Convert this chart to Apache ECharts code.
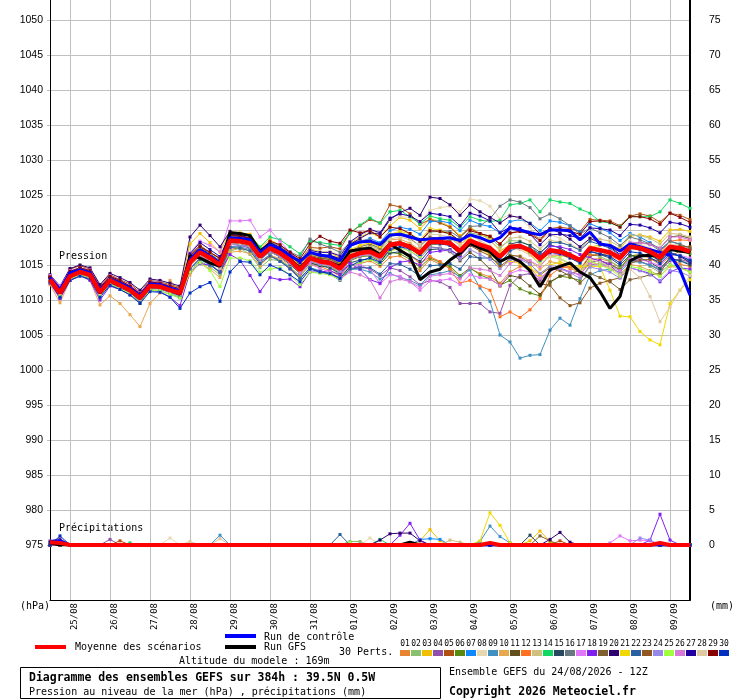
<!DOCTYPE html>
<html>
<head>
<meta charset="utf-8">
<script src="https://cdn.jsdelivr.net/npm/echarts@6.0.0/dist/echarts.min.js"></script>
<style>
  * { margin: 0; padding: 0; }
  html, body { width: 740px; height: 700px; background: #fff; }
</style>
</head>
<body>
<div id="container" style="width:740px;height:700px"></div>
<script>
// axe des temps : pas de 6h depuis le 24/08 12Z (65 échéances)
var jours = ['25/08','26/08','27/08','28/08','29/08','30/08','31/08','01/09','02/09','03/09','04/09','05/09','06/09','07/09','08/09','09/09'];
var graduationsHpa = [975, 1050];
var graduationsMm = [0, 75];

// pression (hPa)
var moyenne = [1012.9,1011.0,1013.4,1014.0,1013.6,1011.1,1012.8,1012.1,1011.4,1010.3,1012.0,1011.9,1011.4,
  1011.0,1015.4,1016.8,1016.0,1015.0,1018.5,1018.4,1018.1,1016.2,1017.4,1016.7,1015.7,1014.3,
  1016.0,1015.5,1015.3,1014.5,1016.2,1016.7,1016.9,1016.2,1017.9,1018.1,1017.6,1016.7,1018.3,
  1018.3,1018.1,1017.0,1018.5,1017.9,1017.4,1016.2,1017.6,1017.7,1017.1,1015.9,1017.1,1016.9,
  1016.4,1015.7,1017.4,1017.1,1016.8,1016.0,1017.6,1017.4,1016.9,1016.1,1017.6,1017.4,1016.9];
var controle = [1013.2,1011.5,1013.9,1014.3,1013.9,1011.5,1012.9,1012.4,1011.7,1010.6,1012.3,1012.2,1011.7,
  1011.3,1015.8,1017.2,1016.3,1015.3,1018.9,1018.8,1018.6,1016.8,1017.9,1017.3,1016.3,1015.5,
  1016.8,1016.4,1016.2,1015.6,1017.8,1018.3,1018.4,1017.9,1019.3,1019.4,1019.0,1018.6,1018.7,
  1018.8,1018.9,1018.5,1019.3,1018.9,1018.3,1018.9,1020.3,1020.0,1019.6,1019.3,1020.0,1020.0,
  1019.9,1018.6,1019.7,1018.0,1017.8,1017.0,1018.0,1017.6,1017.2,1016.8,1016.4,1014.3,1010.7];
var gfs = [1013.0,1011.0,1013.8,1014.2,1013.5,1011.0,1012.8,1012.3,1011.5,1010.2,1012.2,1012.0,1011.5,
  1010.8,1016.3,1016.0,1015.3,1014.8,1019.6,1019.5,1019.2,1017.0,1018.0,1016.8,1015.8,1014.6,
  1016.0,1015.6,1015.4,1014.8,1017.0,1017.2,1017.4,1016.5,1018.0,1017.1,1016.2,1012.9,1014.0,
  1014.4,1015.7,1016.7,1018.1,1017.4,1016.9,1015.5,1016.2,1015.5,1014.2,1011.9,1014.3,1014.8,
  1015.3,1014.0,1013.2,1011.2,1008.8,1010.5,1015.6,1016.3,1016.4,1016.3,1017.2,1017.0,1016.8];

var p01 = [1013.2,1011.4,1013.6,1014.3,1013.9,1011.5,1013.0,1012.5,1011.6,1010.8,1012.3,1012.1,1011.7,
  1011.2,1014.5,1015.9,1015.2,1013.8,1017.2,1017.5,1017.0,1015.1,1016.2,1015.8,1014.6,1013.5,
  1015.0,1014.8,1014.2,1013.4,1015.0,1015.2,1015.6,1014.8,1016.1,1016.3,1015.4,1014.2,1015.8,
  1015.1,1014.6,1013.2,1014.5,1013.8,1013.3,1012.4,1014.0,1014.8,1014.6,1013.0,1014.4,1014.9,
  1014.5,1014.0,1015.8,1015.9,1015.5,1014.6,1016.3,1016.4,1016.0,1015.0,1016.2,1015.1,1014.8];
var p02 = [1012.6,1010.5,1013.1,1013.8,1013.2,1010.6,1012.5,1011.7,1011.0,1009.8,1011.5,1011.6,1011.0,
  1010.4,1014.0,1015.6,1014.7,1013.6,1017.0,1017.4,1016.5,1014.6,1015.8,1015.6,1014.8,1013.3,
  1015.1,1015.0,1014.6,1013.6,1016.6,1017.3,1017.8,1017.2,1019.0,1019.6,1019.2,1018.4,1019.7,
  1019.8,1019.4,1018.5,1019.6,1019.3,1018.9,1017.6,1018.5,1018.4,1017.8,1016.4,1017.2,1016.8,
  1016.1,1015.2,1016.6,1016.2,1015.6,1014.7,1016.0,1015.6,1014.8,1013.9,1015.1,1014.7,1014.0];
var p03 = [1013.0,1011.3,1013.8,1014.4,1013.8,1011.4,1013.2,1012.6,1011.9,1010.6,1012.6,1012.4,1012.0,
  1011.6,1018.0,1019.5,1018.2,1016.8,1019.8,1019.6,1019.4,1017.5,1018.6,1017.8,1016.4,1015.2,
  1017.3,1016.9,1016.8,1016.0,1018.1,1019.0,1019.6,1019.0,1020.6,1021.8,1021.4,1020.2,1021.6,
  1021.2,1020.5,1019.2,1020.4,1019.5,1018.6,1017.0,1017.9,1017.5,1016.6,1015.0,1016.2,1016.4,
  1016.0,1015.5,1017.6,1017.8,1017.9,1017.3,1019.1,1019.3,1019.0,1018.4,1020.0,1020.1,1019.8];
var p04 = [1012.7,1010.8,1013.2,1013.9,1013.3,1010.8,1012.4,1011.8,1011.2,1010.0,1011.8,1011.6,1011.2,
  1010.7,1015.0,1016.3,1015.4,1014.6,1017.6,1017.8,1017.4,1015.5,1016.4,1015.6,1014.4,1013.0,
  1014.6,1014.1,1013.8,1013.0,1014.5,1014.8,1014.4,1013.5,1014.6,1014.2,1013.3,1012.2,1012.8,
  1012.6,1011.8,1009.5,1009.5,1009.5,1008.3,1008.1,1012.1,1013.5,1013.8,1012.8,1014.2,1014.6,
  1014.0,1013.6,1015.4,1015.6,1015.2,1014.3,1015.8,1015.5,1015.0,1014.2,1015.6,1015.8,1015.4];
var p05 = [1013.4,1011.8,1014.4,1014.9,1014.4,1012.0,1013.6,1012.9,1012.3,1011.1,1012.8,1012.6,1012.2,
  1011.8,1016.5,1017.8,1016.8,1016.0,1019.2,1019.0,1018.8,1017.0,1018.3,1017.5,1016.8,1015.6,
  1017.5,1017.4,1017.6,1017.3,1019.6,1020.6,1021.5,1021.0,1023.6,1023.3,1022.3,1020.8,1021.5,
  1021.0,1020.4,1019.0,1020.2,1019.5,1019.1,1018.0,1019.5,1019.8,1019.6,1018.7,1020.2,1020.4,
  1020.2,1019.8,1021.5,1021.4,1021.3,1020.6,1022.0,1022.3,1022.0,1021.1,1022.4,1022.1,1021.5];
var p06 = [1012.8,1010.9,1013.3,1013.8,1013.5,1011.0,1012.6,1012.0,1011.1,1010.1,1011.9,1011.7,1011.3,
  1010.9,1015.2,1016.6,1015.8,1014.9,1018.4,1018.2,1017.8,1016.0,1017.0,1016.2,1015.2,1013.8,
  1015.4,1014.9,1014.8,1014.0,1015.6,1016.2,1016.3,1015.5,1016.8,1016.6,1015.8,1014.7,1016.0,
  1015.4,1014.8,1013.5,1014.6,1013.6,1013.0,1012.1,1012.8,1011.6,1011.0,1010.6,1012.5,1013.4,
  1013.2,1012.8,1015.0,1015.2,1015.0,1014.4,1016.3,1016.5,1016.3,1015.7,1017.2,1017.0,1016.6];
var p07 = [1013.1,1011.2,1013.7,1014.2,1013.8,1011.3,1013.0,1012.3,1011.6,1010.5,1012.2,1012.0,1011.6,
  1011.1,1015.9,1017.3,1016.4,1015.4,1018.9,1018.8,1018.5,1016.7,1017.9,1017.2,1016.4,1015.0,
  1016.8,1016.5,1016.4,1015.8,1017.6,1018.3,1018.8,1018.2,1019.9,1020.4,1020.1,1019.4,1021.2,
  1021.3,1021.0,1019.9,1021.4,1020.8,1020.5,1019.6,1021.2,1021.5,1021.0,1019.9,1021.3,1021.1,
  1020.6,1019.7,1020.9,1020.3,1019.6,1018.5,1019.5,1019.0,1018.2,1017.2,1018.4,1017.9,1017.2];
var p08 = [1013.0,1011.3,1013.5,1014.1,1013.6,1011.2,1012.9,1012.2,1011.5,1010.4,1012.1,1012.0,1011.5,
  1011.2,1015.6,1017.0,1016.2,1015.2,1018.6,1018.6,1018.4,1016.6,1017.8,1017.2,1016.3,1015.1,
  1017.1,1016.9,1017.0,1016.4,1018.3,1019.2,1019.9,1019.5,1021.4,1021.9,1021.8,1021.2,1022.8,
  1023.2,1023.4,1022.6,1024.4,1024.2,1023.4,1021.6,1022.2,1021.6,1020.4,1018.6,1019.4,1018.8,
  1018.0,1017.2,1018.6,1018.2,1017.8,1017.0,1018.4,1018.0,1017.4,1016.6,1018.0,1017.8,1017.2];
var p09 = [1012.5,1010.4,1012.9,1013.6,1013.0,1010.5,1012.3,1011.6,1010.8,1009.6,1011.4,1011.3,1010.8,
  1010.3,1014.6,1016.0,1015.2,1014.0,1017.6,1017.6,1017.2,1015.4,1016.5,1015.6,1014.6,1013.1,
  1014.6,1014.2,1013.8,1013.2,1014.4,1014.4,1014.0,1013.0,1013.8,1013.2,1012.8,1012.1,1013.6,
  1013.8,1014.2,1013.3,1014.3,1011.7,1009.8,1005.0,1004.0,1001.7,1002.1,1002.2,1005.7,1007.4,
  1006.4,1010.2,1013.6,1014.2,1014.4,1014.0,1015.5,1015.4,1015.0,1014.4,1015.8,1015.6,1015.2];
var p10 = [1012.2,1009.6,1012.8,1013.5,1012.8,1009.3,1010.6,1009.5,1007.9,1006.2,1009.5,1011.0,1012.8,
  1011.3,1013.6,1015.4,1014.4,1013.2,1016.8,1017.0,1016.6,1014.9,1016.4,1015.9,1015.0,1013.9,
  1015.6,1015.4,1015.4,1014.8,1016.5,1017.2,1017.6,1017.0,1018.6,1018.7,1018.1,1017.2,1018.6,
  1018.4,1018.0,1016.8,1018.0,1017.2,1016.6,1015.2,1016.4,1016.3,1015.6,1014.4,1015.5,1015.2,
  1014.7,1013.9,1015.5,1015.0,1014.6,1013.7,1015.1,1014.8,1014.2,1013.4,1014.8,1014.6,1014.0];
var p11 = [1013.3,1011.6,1014.0,1014.6,1014.1,1011.6,1013.2,1012.6,1011.8,1010.8,1012.4,1012.3,1011.8,
  1011.4,1016.2,1017.6,1016.6,1015.6,1019.0,1018.8,1018.6,1016.8,1018.0,1017.3,1016.3,1015.0,
  1016.6,1016.2,1016.0,1015.3,1016.9,1017.4,1017.5,1016.8,1018.2,1018.2,1017.4,1016.3,1017.6,
  1017.4,1016.9,1015.6,1016.8,1015.8,1014.4,1012.0,1013.5,1013.2,1012.0,1010.8,1012.6,1013.4,
  1013.8,1014.2,1016.3,1016.5,1016.6,1016.2,1018.0,1018.2,1018.0,1017.4,1019.0,1019.2,1018.8];
var p12 = [1012.6,1010.7,1013.2,1013.9,1013.4,1010.9,1012.6,1011.9,1011.2,1010.1,1011.8,1011.7,1011.2,
  1010.8,1014.9,1016.3,1015.5,1014.5,1018.0,1018.0,1017.7,1015.8,1017.0,1016.3,1015.3,1013.9,
  1015.6,1015.1,1014.9,1014.1,1015.8,1016.3,1016.5,1015.7,1017.2,1017.2,1016.4,1015.2,1016.2,
  1015.5,1014.4,1012.4,1012.8,1012.0,1011.4,1007.6,1008.3,1007.5,1008.6,1010.2,1013.5,1014.6,
  1014.8,1014.4,1016.4,1016.5,1016.3,1015.7,1017.4,1017.5,1017.2,1016.7,1018.4,1018.6,1018.5];
var p13 = [1013.0,1011.1,1013.5,1014.0,1013.7,1011.2,1012.9,1012.2,1011.5,1010.4,1012.1,1012.0,1011.5,
  1011.1,1015.0,1016.4,1015.6,1014.5,1018.0,1018.0,1017.6,1015.7,1016.9,1016.1,1015.2,1013.8,
  1015.4,1015.0,1014.8,1014.1,1015.9,1016.5,1016.8,1016.2,1018.0,1018.3,1017.9,1017.1,1018.8,
  1018.9,1018.8,1017.8,1019.4,1018.9,1018.4,1017.3,1018.8,1019.0,1018.4,1017.3,1018.5,1018.3,
  1017.8,1017.2,1018.9,1018.7,1018.4,1017.6,1019.3,1019.2,1018.8,1018.0,1019.5,1019.4,1019.0];
var p14 = [1012.9,1011.0,1013.5,1014.1,1013.6,1011.1,1012.8,1012.1,1011.4,1010.3,1012.0,1012.0,1011.4,
  1011.0,1015.6,1017.1,1016.3,1015.4,1019.1,1019.3,1019.2,1017.6,1019.0,1018.6,1017.6,1016.6,
  1018.4,1018.2,1018.0,1017.8,1019.6,1020.7,1021.7,1021.0,1022.6,1022.8,1021.9,1020.9,1022.0,
  1021.6,1021.4,1020.4,1021.9,1021.4,1021.2,1021.4,1023.6,1023.8,1024.3,1022.6,1024.3,1024.0,
  1023.8,1023.0,1022.4,1021.2,1021.0,1020.5,1021.9,1021.9,1021.9,1022.6,1024.3,1023.8,1023.1];
var p15 = [1012.8,1010.8,1013.3,1013.9,1013.4,1010.9,1012.6,1012.0,1011.3,1010.2,1011.9,1011.8,1011.3,
  1010.9,1015.3,1016.6,1015.8,1014.8,1018.2,1018.0,1017.6,1015.8,1016.9,1016.2,1015.1,1013.8,
  1015.3,1014.9,1014.6,1013.8,1015.3,1015.7,1015.9,1015.1,1016.7,1016.9,1016.4,1015.5,1017.2,
  1017.3,1017.2,1016.3,1017.9,1017.6,1017.3,1016.4,1018.0,1018.3,1017.8,1016.8,1017.9,1017.4,
  1016.6,1015.6,1017.0,1016.5,1016.0,1015.0,1016.4,1016.0,1015.4,1014.5,1016.0,1015.6,1015.0];
var p16 = [1013.1,1011.4,1013.8,1014.4,1014.0,1011.5,1013.2,1012.5,1011.8,1010.7,1012.4,1012.2,1011.8,
  1011.4,1016.0,1017.4,1016.5,1015.6,1019.0,1018.9,1018.6,1016.9,1018.2,1017.8,1016.9,1016.2,
  1018.7,1018.0,1017.5,1016.8,1018.2,1018.5,1018.6,1017.8,1019.2,1019.4,1019.0,1018.3,1019.8,
  1019.9,1019.8,1018.9,1020.5,1020.6,1021.6,1023.4,1024.3,1024.0,1023.2,1021.6,1022.3,1021.6,
  1020.6,1019.4,1020.3,1019.6,1018.9,1017.8,1019.0,1018.6,1018.0,1017.0,1018.4,1018.0,1017.4];
var p17 = [1013.4,1011.7,1014.0,1014.5,1014.2,1011.7,1013.4,1012.7,1012.0,1010.9,1012.6,1012.4,1011.9,
  1011.5,1016.7,1018.4,1017.8,1016.9,1021.3,1021.3,1021.4,1019.0,1020.0,1018.4,1016.8,1015.1,
  1016.4,1015.6,1015.2,1014.1,1015.2,1015.0,1014.4,1012.3,1013.6,1013.4,1012.6,1011.4,1012.7,
  1012.8,1013.0,1012.2,1013.6,1013.2,1013.0,1012.1,1013.8,1014.3,1014.0,1013.1,1014.4,1014.4,
  1014.0,1013.6,1015.2,1015.0,1014.8,1014.2,1015.8,1015.8,1015.4,1014.9,1016.4,1016.4,1016.0];
var p18 = [1012.4,1010.2,1012.8,1013.5,1012.8,1010.0,1012.0,1011.5,1010.8,1009.6,1011.4,1011.2,1010.4,
  1009.2,1014.0,1015.2,1015.0,1014.0,1016.5,1015.7,1013.5,1011.2,1013.2,1012.9,1013.0,1011.9,
  1014.0,1014.0,1014.2,1013.6,1015.2,1014.4,1012.9,1012.4,1014.6,1015.4,1015.6,1015.0,1016.8,
  1017.0,1017.1,1016.3,1017.9,1017.5,1017.2,1016.2,1017.6,1017.8,1017.3,1016.3,1017.7,1017.6,
  1017.2,1016.5,1016.0,1015.6,1015.0,1013.6,1014.6,1014.2,1013.8,1012.6,1014.0,1014.6,1014.4];
var p19 = [1013.2,1011.5,1013.9,1014.3,1013.9,1011.4,1013.0,1012.4,1011.6,1010.5,1012.2,1012.1,1011.6,
  1011.2,1015.7,1017.0,1016.1,1015.1,1018.3,1018.1,1017.8,1015.9,1017.1,1016.5,1015.6,1014.4,
  1016.2,1015.9,1015.8,1015.2,1017.0,1017.6,1018.0,1017.4,1019.2,1019.4,1018.8,1017.7,1019.0,
  1018.8,1018.4,1017.2,1018.5,1017.6,1016.8,1015.2,1016.4,1016.2,1015.2,1013.6,1014.6,1014.2,
  1013.4,1012.4,1013.8,1013.2,1012.6,1011.5,1012.9,1013.2,1013.6,1013.8,1016.2,1017.0,1017.2];
var p20 = [1013.6,1012.0,1014.5,1015.0,1014.6,1012.2,1013.8,1013.2,1012.5,1011.4,1013.0,1012.8,1012.4,
  1012.0,1019.0,1020.7,1019.2,1017.6,1019.8,1019.3,1018.7,1016.7,1017.8,1017.0,1016.0,1014.8,
  1016.6,1016.3,1016.4,1015.9,1017.9,1018.8,1019.6,1019.4,1021.5,1022.5,1023.1,1022.1,1024.7,
  1024.5,1023.6,1022.1,1023.6,1022.6,1021.8,1021.0,1022.0,1021.8,1020.9,1019.4,1020.2,1019.6,
  1018.7,1017.6,1018.8,1018.2,1017.6,1016.5,1017.8,1017.3,1016.6,1015.6,1016.8,1016.2,1015.4];
var p21 = [1012.9,1011.1,1013.6,1014.2,1013.7,1011.3,1012.9,1012.3,1011.5,1010.4,1012.1,1012.0,1011.5,
  1011.1,1015.9,1017.2,1016.4,1015.4,1018.8,1018.7,1018.4,1016.6,1017.8,1017.1,1016.2,1014.9,
  1016.6,1016.2,1016.1,1015.4,1017.2,1017.8,1018.2,1017.6,1019.4,1019.8,1019.5,1018.6,1020.2,
  1020.0,1019.4,1017.9,1018.9,1017.5,1016.4,1014.6,1015.6,1015.2,1014.6,1013.6,1015.0,1015.4,
  1015.0,1014.8,1014.8,1014.8,1011.4,1007.7,1007.6,1005.5,1004.3,1003.6,1009.5,1011.4,1012.9];
var p22 = [1012.7,1010.6,1013.1,1013.7,1013.2,1010.7,1012.4,1011.8,1011.1,1009.9,1011.7,1011.6,1011.1,
  1010.6,1014.4,1015.8,1015.0,1014.0,1017.5,1017.4,1017.0,1015.2,1016.3,1015.5,1014.5,1013.1,
  1014.6,1014.0,1013.7,1012.8,1014.4,1014.6,1014.6,1013.7,1015.2,1015.1,1014.4,1013.4,1014.9,
  1015.0,1015.2,1014.4,1016.2,1016.0,1016.0,1015.2,1017.0,1017.6,1017.4,1016.6,1018.2,1018.2,
  1017.8,1017.1,1018.4,1017.9,1017.4,1016.4,1017.6,1017.2,1016.5,1015.5,1016.8,1016.3,1015.6];
var p23 = [1013.1,1011.3,1013.7,1014.2,1013.8,1011.4,1013.1,1012.4,1011.7,1010.6,1012.3,1012.1,1011.7,
  1011.3,1015.5,1016.9,1016.1,1015.1,1018.5,1018.4,1018.2,1016.3,1017.6,1016.9,1016.0,1014.7,
  1016.4,1016.0,1015.8,1015.1,1016.7,1017.1,1017.3,1016.6,1018.2,1018.3,1017.8,1016.9,1018.4,
  1018.2,1017.8,1016.5,1017.8,1017.0,1016.3,1014.8,1015.9,1015.4,1014.2,1012.3,1012.1,1010.3,
  1009.2,1009.6,1011.7,1012.4,1012.8,1013.2,1015.2,1015.7,1015.8,1015.6,1017.4,1017.7,1017.6];
var p24 = [1012.8,1010.9,1013.3,1013.9,1013.5,1011.0,1012.7,1012.0,1011.3,1010.2,1011.9,1011.8,1011.3,
  1010.9,1015.0,1016.4,1015.6,1014.6,1018.0,1017.9,1017.6,1015.7,1016.9,1016.2,1015.2,1013.9,
  1015.5,1015.1,1014.9,1014.1,1015.8,1016.3,1016.5,1015.8,1017.4,1017.6,1017.0,1016.0,1017.5,
  1017.4,1017.0,1015.8,1017.2,1016.5,1015.8,1014.5,1015.8,1015.8,1015.1,1013.8,1014.8,1014.5,
  1013.9,1013.1,1014.7,1014.4,1014.0,1013.1,1014.6,1014.2,1013.6,1012.8,1014.2,1014.0,1013.4];
var p25 = [1012.6,1010.6,1013.0,1013.6,1013.1,1010.6,1012.3,1011.6,1010.9,1009.5,1011.4,1011.3,1010.8,
  1010.3,1014.0,1015.3,1014.2,1011.9,1016.0,1016.0,1015.6,1014.0,1014.4,1014.6,1013.6,1012.2,
  1014.0,1013.8,1013.6,1012.9,1014.8,1015.4,1015.8,1015.2,1017.0,1017.4,1017.0,1016.2,1017.9,
  1018.0,1017.9,1016.9,1018.5,1018.0,1017.5,1016.4,1017.8,1017.6,1016.8,1015.4,1016.4,1016.0,
  1015.2,1014.2,1015.6,1015.0,1014.4,1013.4,1014.8,1014.5,1014.0,1013.4,1015.0,1014.6,1014.0];
var p26 = [1013.5,1012.0,1014.2,1014.6,1014.3,1011.8,1013.5,1012.8,1012.1,1011.0,1012.7,1012.5,1012.0,
  1011.6,1015.4,1016.9,1016.2,1015.2,1018.6,1018.5,1018.2,1016.4,1017.4,1016.6,1015.4,1013.8,
  1015.2,1014.5,1014.0,1013.0,1014.0,1013.6,1012.9,1010.3,1012.6,1013.0,1012.6,1011.8,1013.4,
  1013.6,1013.8,1013.0,1014.6,1014.4,1014.2,1013.5,1015.2,1015.8,1015.6,1014.8,1016.4,1016.5,
  1016.2,1015.8,1017.4,1017.2,1017.0,1016.4,1018.2,1018.2,1017.9,1017.4,1019.0,1019.0,1018.6];
var p27 = [1013.2,1011.5,1013.9,1014.5,1014.0,1011.6,1013.3,1012.6,1011.9,1010.8,1012.5,1012.3,1011.8,
  1011.4,1016.6,1018.2,1017.2,1016.2,1019.4,1019.2,1018.8,1017.0,1018.2,1017.5,1016.6,1015.3,
  1017.1,1016.8,1016.8,1016.3,1018.3,1019.3,1020.1,1019.6,1021.7,1022.3,1022.0,1021.2,1022.4,
  1022.2,1021.9,1020.6,1022.4,1022.0,1021.3,1019.6,1020.4,1020.2,1019.4,1017.9,1019.3,1019.4,
  1019.2,1018.8,1020.3,1020.2,1020.0,1019.2,1020.8,1020.7,1020.3,1019.6,1021.1,1020.9,1020.4];
var p28 = [1012.7,1010.9,1013.2,1013.8,1013.3,1010.9,1012.6,1011.9,1011.2,1010.1,1011.8,1011.7,1011.2,
  1010.8,1015.0,1016.5,1015.7,1014.7,1018.2,1018.1,1017.8,1016.0,1017.2,1016.6,1015.6,1014.3,
  1016.0,1015.6,1015.5,1014.8,1016.6,1017.2,1017.5,1016.9,1018.7,1019.0,1018.6,1017.8,1019.4,
  1019.3,1019.0,1017.9,1019.2,1018.5,1017.7,1016.3,1017.4,1017.2,1016.4,1015.1,1016.2,1015.8,
  1015.2,1014.4,1015.8,1015.4,1014.8,1013.6,1014.4,1013.2,1010.5,1006.9,1009.0,1011.4,1013.5];
var p29 = [1013.3,1011.6,1014.1,1014.6,1014.2,1011.8,1013.4,1012.8,1012.0,1010.9,1012.6,1012.4,1012.0,
  1011.6,1016.3,1017.6,1016.8,1015.9,1019.3,1019.1,1018.9,1017.1,1018.4,1017.9,1016.8,1015.9,
  1018.0,1019.1,1018.4,1018.1,1020.0,1019.6,1019.9,1019.0,1020.4,1020.2,1019.5,1018.4,1019.9,
  1019.8,1019.5,1018.4,1019.9,1019.5,1019.1,1018.0,1019.6,1019.8,1019.4,1018.5,1020.0,1020.1,
  1019.8,1019.4,1021.2,1021.3,1021.1,1020.4,1021.9,1021.9,1021.6,1020.8,1022.4,1021.8,1021.1];
var p30 = [1012.6,1010.4,1012.8,1013.4,1013.0,1010.4,1012.1,1011.5,1010.7,1009.5,1011.2,1011.1,1010.4,
  1008.8,1011.0,1011.9,1012.5,1009.8,1014.0,1015.5,1015.4,1013.6,1015.0,1014.4,1013.6,1012.6,
  1014.4,1014.0,1013.8,1013.1,1014.8,1015.6,1016.0,1015.4,1017.2,1017.6,1017.3,1016.5,1018.0,
  1018.0,1017.8,1016.7,1018.2,1017.6,1017.1,1016.0,1017.4,1017.5,1016.9,1015.7,1016.8,1016.6,
  1016.0,1015.3,1016.9,1016.6,1016.2,1015.3,1016.9,1016.7,1016.1,1015.2,1016.6,1016.3,1015.7];

// précipitations (mm), échéances non nulles seulement : [indice, mm]
var rMoyenne = [[0,0.4],[1,0.3],[44,0.3],[61,0.3]];
var rControle = [[0,0.5],[1,0.6]];
var rGfs = [[0,0.3],[36,0.4]];
var r01 = [], r06 = [], r10 = [], r11 = [], r12 = [], r16 = [], r23 = [], r26 = [], r27 = [], r29 = [];
var r02 = [[30,0.5],[31,0.5]];
var r03 = [[37,0.6],[38,2.2],[39,0.6],[48,0.6],[49,2.0],[50,0.5]];
var r04 = [[0,0.6],[1,0.9],[6,0.8]];
var r05 = [[7,0.6],[51,0.6]];
var r07 = [[37,0.8],[38,0.9],[39,0.8]];
var r08 = [[12,1.0],[32,1.0]];
var r09 = [[17,1.4],[43,0.5],[44,2.7],[45,1.2],[46,0.3]];
var r13 = [[40,0.7],[41,0.4]];
var r14 = [[8,0.3],[33,0.8]];
var r15 = [[48,1.4]];
var r17 = [[56,0.3],[57,1.3],[58,0.6],[59,0.7],[60,0.6]];
var r18 = [[35,1.4],[36,3.1],[37,0.7],[60,0.7],[61,4.4],[62,0.7]];
var r19 = [[49,1.3],[50,0.6]];
var r20 = [[0,0.4],[1,0.7],[33,0.7],[34,1.6],[35,1.7],[36,1.7],[37,0.6],[50,0.8],[51,1.8],[52,0.4]];
var r21 = [[43,0.6],[44,4.6],[45,2.8],[46,0.3]];
var r22 = [[29,1.5]];
var r24 = [[59,1.0],[60,0.7]];
var r25 = [[30,0.3]];
var r28 = [[14,0.5],[17,0.9]];
var r30 = [[1,1.3]];

var couleurs = ['#E88430','#88C070','#F0C000','#9050A8','#B05010','#5A8A10','#1088FF','#E8D8B0','#4090C0','#E8A850',
  '#605020','#FF7020','#D0C080','#10D860','#284860','#687880','#E078F8','#8020F0','#806030','#300070',
  '#F0D800','#2860A0','#905820','#9888E8','#A0FF40','#D878D8','#2000A0','#E0C8A0','#880000','#0030C0'];

var perts = [p01,p02,p03,p04,p05,p06,p07,p08,p09,p10,p11,p12,p13,p14,p15,p16,p17,p18,p19,p20,p21,p22,p23,p24,p25,p26,p27,p28,p29,p30];
var pluies = [r01,r02,r03,r04,r05,r06,r07,r08,r09,r10,r11,r12,r13,r14,r15,r16,r17,r18,r19,r20,r21,r22,r23,r24,r25,r26,r27,r28,r29,r30];

var n = moyenne.length;
var echeances = [];
for (var i = 0; i < n; i++) echeances.push(String(i));
function estJour(idx) { return (idx - 2) % 4 === 0; }
function pluie(liste) {
  var a = [];
  for (var i = 0; i < n; i++) a.push(0);
  liste.forEach(function (v) { a[v[0]] = v[1]; });
  return a;
}

var mono = '"DejaVu Sans Mono", monospace';
var series = [];
function ligne(data, couleur, largeur, yAxe, symb, z) {
  return {
    type: 'line', xAxisIndex: 0, yAxisIndex: yAxe, data: data, z: z,
    symbol: symb ? 'rect' : 'none', symbolSize: 3, showSymbol: !!symb,
    lineStyle: { color: couleur, width: largeur },
    itemStyle: { color: couleur }, silent: true
  };
}
for (var k = 0; k < perts.length; k++) series.push(ligne(perts[k], couleurs[k], 1, 0, true, 2));
series.push(ligne(gfs, '#000000', 3, 0, false, 3));
series.push(ligne(controle, '#0000FF', 3, 0, false, 4));
series.push(ligne(moyenne, '#FF0000', 4.5, 0, false, 5));
for (var k = 0; k < pluies.length; k++) series.push(ligne(pluie(pluies[k]), couleurs[k], 1, 1, true, 2));
series.push(ligne(pluie(rGfs), '#000000', 3, 1, false, 3));
series.push(ligne(pluie(rControle), '#0000FF', 3, 1, false, 4));
series.push(ligne(pluie(rMoyenne), '#FF0000', 4, 1, false, 5));

function txt(x, y, s, font, align) {
  return { type: 'text', x: x, y: y, silent: true,
    style: { text: s, font: font, fill: '#000', textAlign: align || 'left', textVerticalAlign: 'middle',
      align: align || 'left', verticalAlign: 'middle' } };
}
var graphic = [
  txt(20, 606, '(hPa)', '10px ' + mono),
  txt(710, 606, '(mm)', '10px ' + mono),
  txt(59, 256, 'Pression', '10px ' + mono),
  txt(59, 528, 'Précipitations', '10px ' + mono),
  { type: 'rect', shape: { x: 35, y: 645, width: 31, height: 4 }, style: { fill: '#FF0000' } },
  txt(75, 647, 'Moyenne des scénarios', '10px ' + mono),
  { type: 'rect', shape: { x: 225, y: 634, width: 31, height: 4 }, style: { fill: '#0000FF' } },
  txt(264, 637, 'Run de contrôle', '10px ' + mono),
  { type: 'rect', shape: { x: 225, y: 645, width: 31, height: 4 }, style: { fill: '#000000' } },
  txt(264, 647, 'Run GFS', '10px ' + mono),
  txt(179, 661, 'Altitude du modele : 169m', '10px ' + mono),
  txt(339, 652, '30 Perts.', '10px ' + mono),
  { type: 'rect', shape: { x: 20.5, y: 667.5, width: 420, height: 31 }, style: { fill: 'none', stroke: '#000', lineWidth: 1 } },
  txt(29, 678, 'Diagramme des ensembles GEFS sur 384h : 39.5N 0.5W', 'bold 11.5px ' + mono),
  txt(29, 692, 'Pression au niveau de la mer (hPa) , précipitations (mm)', '10px ' + mono),
  txt(449, 672, 'Ensemble GEFS du 24/08/2026 - 12Z', '10px ' + mono),
  txt(449, 692, 'Copyright 2026 Meteociel.fr', 'bold 11.5px ' + mono)
];
for (var k = 0; k < couleurs.length; k++) {
  graphic.push({ type: 'rect', shape: { x: 400 + 11 * k, y: 650, width: 10, height: 6 }, style: { fill: couleurs[k] } });
  graphic.push(txt(405 + 11 * k, 644, (k < 9 ? '0' : '') + (k + 1), '8px ' + mono, 'center'));
}

var option = {
  animation: false,
  backgroundColor: '#fff',
  grid: [
    { left: 50, right: 50, top: 20, bottom: 155 },
    { left: 50, right: 50, top: 0, bottom: 100 }
  ],
  xAxis: [
    { type: 'category', gridIndex: 0, data: echeances, boundaryGap: false, show: false },
    { type: 'category', gridIndex: 1, data: echeances, boundaryGap: false,
      axisLine: { show: true, lineStyle: { color: '#000', width: 1 } },
      axisTick: { show: false },
      axisLabel: { interval: function (idx) { return estJour(idx); }, rotate: 90, margin: 3,
        fontFamily: 'DejaVu Sans Mono', fontSize: 9, color: '#000', verticalAlign: 'top',
        formatter: function (v, idx) { return estJour(idx) ? jours[(idx - 2) / 4] : ''; } },
      splitLine: { show: true, interval: function (idx) { return estJour(idx); },
        lineStyle: { color: '#C0C0C0', width: 1 } } }
  ],
  yAxis: [
    { type: 'value', gridIndex: 0, min: graduationsHpa[0], max: graduationsHpa[1], interval: 5,
      axisLine: { show: false }, axisTick: { show: true, length: 3, lineStyle: { color: '#C0C0C0' } },
      axisLabel: { margin: 7, fontFamily: 'Liberation Sans', fontSize: 10.5, color: '#000',
        formatter: function (v) { return String(v); } },
      splitLine: { lineStyle: { color: '#C0C0C0', width: 1 } } },
    { type: 'value', gridIndex: 0, position: 'right', min: graduationsMm[0], max: graduationsMm[1], interval: 5,
      axisLine: { show: false }, axisTick: { show: false },
      axisLabel: { margin: 19, fontFamily: 'Liberation Sans', fontSize: 10.5, color: '#000',
        formatter: function (v) { return String(v); } },
      splitLine: { show: false } },
    { type: 'value', gridIndex: 1, min: 0, max: 1,
      axisLine: { show: true, lineStyle: { color: '#000', width: 1 } },
      axisTick: { show: false }, axisLabel: { show: false }, splitLine: { show: false } },
    { type: 'value', gridIndex: 1, position: 'right', min: 0, max: 1,
      axisLine: { show: true, lineStyle: { color: '#000', width: 2 } },
      axisTick: { show: false }, axisLabel: { show: false }, splitLine: { show: false } }
  ],
  graphic: graphic,
  series: series
};

var myChart = echarts.init(document.getElementById('container'));
myChart.setOption(option);
</script>
</body>
</html>
